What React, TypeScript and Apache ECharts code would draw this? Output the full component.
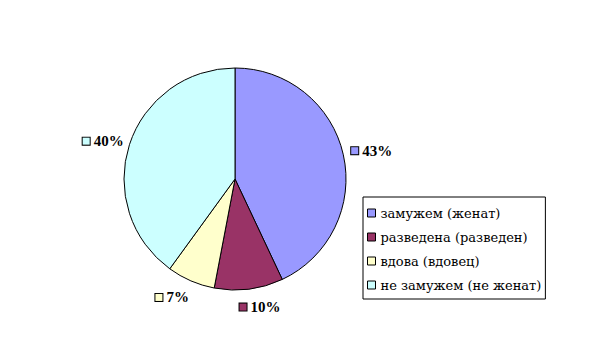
import React, { useEffect, useRef } from "react";
import * as echarts from "echarts";

const categories = ["замужем (женат)", "разведена (разведен)", "вдова (вдовец)", "не замужем (не женат)"];
const values = [43, 10, 7, 40];
const colors = ["#9999FF", "#993366", "#FFFFCC", "#CCFFFF"];
const labelShift = [
  [-2, -3],
  [-15, 13],
  [5, 12],
  [4, -2],
];

const SERIF = "Liberation Serif";
const CYR_SERIF = "DejaVu Serif";

export default function App() {
  const ref = useRef<HTMLDivElement>(null);
  useEffect(() => {
    if (!ref.current) return;
    const chart = echarts.init(ref.current, null, { renderer: "svg" });
    const data = values.map((v, i) => ({
      value: v,
      name: categories[i],
      itemStyle: { color: colors[i] },
      label: {
        rich: {
          m: { width: 7, height: 7, backgroundColor: colors[i], borderColor: "#000", borderWidth: 1 },
          t: { fontFamily: SERIF, fontWeight: "bold", fontSize: 15, color: "#000", padding: [0, 0, 0, 4] },
        },
      },
    }));
    const legendText = { fontFamily: CYR_SERIF, fontSize: 13, color: "#000", lineHeight: 16 };
    chart.setOption({
      animation: false,
      backgroundColor: "#fff",
      textStyle: { fontFamily: SERIF },
      legend: {
        orient: "vertical",
        left: 363,
        top: 197,
        padding: [8, 4, 6, 4],
        itemGap: 8,
        itemWidth: 8,
        itemHeight: 8,
        icon: "rect",
        borderColor: "#000",
        borderWidth: 1,
        borderRadius: 0,
        itemStyle: { borderColor: "#000", borderWidth: 1 },
        textStyle: legendText,
        data: categories,
      },
      series: [
        {
          type: "pie",
          center: [235, 179],
          radius: 111,
          startAngle: 90,
          clockwise: true,
          avoidLabelOverlap: false,
          itemStyle: { borderColor: "#000", borderWidth: 1 },
          label: {
            show: true,
            position: "outside",
            fontFamily: SERIF,
            formatter: (p: any) => `{m|}{t|${p.value}%}`,
          },
          labelLine: { show: false, length: 5, length2: 0 },
          labelLayout: (p: any) => ({ dx: labelShift[p.dataIndex][0], dy: labelShift[p.dataIndex][1] }),
          emphasis: { disabled: true },
          data,
        },
      ],
    });
    return () => chart.dispose();
  }, []);
  return <div ref={ref} style={{ position: "absolute", left: 0, top: 0, width: 606, height: 358 }} />;
}
